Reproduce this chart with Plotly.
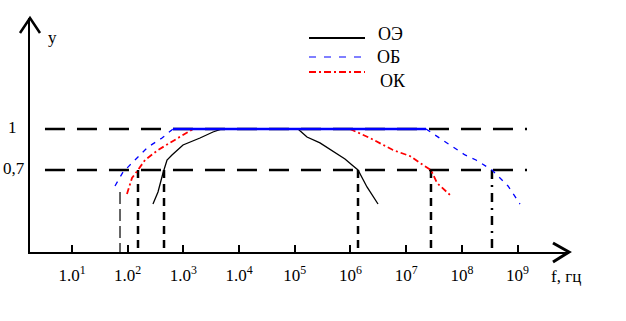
import plotly.graph_objects as go

# ---- data (lg f values, y = relative gain) ----
decades = [1, 2, 3, 4, 5, 6, 7, 8, 9]
tick_labels = ["1.0<sup>1</sup>", "1.0<sup>2</sup>", "1.0<sup>3</sup>", "1.0<sup>4</sup>",
               "10<sup>5</sup>", "10<sup>6</sup>", "10<sup>7</sup>", "10<sup>8</sup>", "10<sup>9</sup>"]

ob_low_lg = [1.772, 1.916, 2.167, 2.364, 2.616, 2.813]
ob_low_y = [0.583, 0.685, 0.788, 0.868, 0.934, 1.0]
ob_high_lg = [7.356, 7.697, 8.056, 8.253, 8.540, 8.828, 9.043]
ob_high_y = [1.0, 0.905, 0.81, 0.773, 0.70, 0.583, 0.451]
flat_lg = [2.813, 7.356]
flat_y = [1.0, 1.0]

ok_low_lg = [1.987, 2.077, 2.185, 2.311, 2.544, 2.759, 2.939, 3.172]
ok_low_y = [0.524, 0.642, 0.70, 0.773, 0.846, 0.898, 0.941, 1.0]
ok_high_lg = [5.991, 6.350, 6.763, 7.068, 7.302, 7.445, 7.553, 7.787]
ok_high_y = [1.0, 0.934, 0.846, 0.802, 0.737, 0.70, 0.605, 0.517]

oe_low_lg = [2.454, 2.544, 2.634, 2.706, 2.795, 2.993, 3.298, 3.531, 3.693]
oe_low_y = [0.451, 0.539, 0.678, 0.773, 0.810, 0.883, 0.934, 0.978, 1.0]
oe_high_lg = [5.057, 5.219, 5.452, 5.686, 5.901, 6.027, 6.135, 6.296, 6.494]
oe_high_y = [1.0, 0.941, 0.898, 0.839, 0.781, 0.737, 0.70, 0.576, 0.451]

ref_levels = [1.0, 0.7]
ref_span_lg = [0.515, 9.169]

cut_lg = [1.862, 2.185, 2.652, 6.135, 7.445, 8.540]
cut_top = [0.539, 0.7, 0.7, 0.7, 0.7, 0.7]
cut_dash = ["12px,5px", "8px,6px", "8px,6px", "8px,6px", "8px,6px", "9px,6px,2px,6px"]
cut_width = [1.2, 2.5, 2.5, 2.5, 2.5, 2.5]

Y_BOTTOM = 0.1
FONT = "'Liberation Serif', 'Times New Roman', 'DejaVu Serif', serif"


def f(lgs):
    return [10 ** v for v in lgs]


fig = go.Figure()

# horizontal reference levels
for lvl in ref_levels:
    fig.add_trace(go.Scatter(x=f(ref_span_lg), y=[lvl, lvl], mode="lines",
                             line=dict(color="black", width=2.5, dash="20px,12px"),
                             showlegend=False, hoverinfo="skip"))

# vertical cut-off markers
for lg, top, dsh, w in zip(cut_lg, cut_top, cut_dash, cut_width):
    fig.add_trace(go.Scatter(x=f([lg, lg]), y=[top, Y_BOTTOM], mode="lines",
                             line=dict(color="black", width=w, dash=dsh),
                             showlegend=False, hoverinfo="skip"))

# curves
for xs, ys in [(oe_low_lg, oe_low_y), (oe_high_lg, oe_high_y)]:
    fig.add_trace(go.Scatter(x=f(xs), y=ys, mode="lines", name="ОЭ",
                             line=dict(color="black", width=1.3), showlegend=False))
for xs, ys in [(ok_low_lg, ok_low_y), (ok_high_lg, ok_high_y)]:
    fig.add_trace(go.Scatter(x=f(xs), y=ys, mode="lines", name="ОК",
                             line=dict(color="red", width=1.8, dash="6px,3px,2px,3px"),
                             showlegend=False))
for xs, ys in [(ob_low_lg, ob_low_y), (ob_high_lg, ob_high_y)]:
    fig.add_trace(go.Scatter(x=f(xs), y=ys, mode="lines", name="ОБ",
                             line=dict(color="blue", width=1.3, dash="5px,6px"),
                             showlegend=False))
fig.add_trace(go.Scatter(x=f(flat_lg), y=flat_y, mode="lines",
                         line=dict(color="blue", width=2.5), showlegend=False))

W, H = 626, 321
L, R, T, B = 30, 57, 18, 69
pw, ph = W - L - R, H - T - B


def px(xp):
    return (xp - L) / pw


def py(yp):
    return (H - B - yp) / ph


shapes = [
    # arrow heads
    dict(type="path", xref="paper", yref="paper",
         path=f"M {px(20)},{py(33)} L {px(30)},{py(18)} L {px(40)},{py(33)}",
         line=dict(color="black", width=2.5)),
    dict(type="path", xref="paper", yref="paper",
         path=f"M {px(553)},{py(243)} L {px(569)},{py(252)} L {px(553)},{py(262)}",
         line=dict(color="black", width=3)),
    # legend samples
    dict(type="line", xref="paper", yref="paper", x0=px(309), x1=px(365), y0=py(38), y1=py(38),
         line=dict(color="black", width=2)),
    dict(type="line", xref="paper", yref="paper", x0=px(309), x1=px(365), y0=py(57), y1=py(57),
         line=dict(color="blue", width=1.2, dash="7px,8px")),
    dict(type="line", xref="paper", yref="paper", x0=px(309), x1=px(365), y0=py(72), y1=py(72),
         line=dict(color="red", width=2, dash="7px,3px,2px,3px")),
]

annotations = [
    dict(text="ОЭ", x=px(376), y=py(34), xanchor="left", size=18),
    dict(text="ОБ", x=px(375), y=py(57), xanchor="left", size=18),
    dict(text="ОК", x=px(378), y=py(81), xanchor="left", size=18),
    dict(text="y", x=px(52), y=py(37), xanchor="center", size=17),
    dict(text="1", x=px(12), y=py(127), xanchor="center", size=17),
    dict(text="0,7", x=px(14), y=py(169), xanchor="center", size=17),
    dict(text="f, гц", x=px(566), y=py(276), xanchor="center", size=17),
]
for a in annotations:
    sz = a.pop("size")
    a.update(xref="paper", yref="paper", showarrow=False, yanchor="middle",
             font=dict(family=FONT, size=sz, color="black"))

fig.update_layout(
    width=W, height=H,
    margin=dict(l=L, r=R, t=T, b=B, pad=0),
    paper_bgcolor="white", plot_bgcolor="white",
    showlegend=False,
    shapes=shapes, annotations=annotations,
    font=dict(family=FONT, size=17, color="black"),
    xaxis=dict(type="log", range=[0.246, 9.923], showgrid=False, zeroline=False,
               showline=True, linecolor="black", linewidth=2,
               tickvals=[10 ** d for d in decades], ticktext=tick_labels,
               ticks="inside", ticklen=7, tickwidth=1.5, tickcolor="black",
               ticklabelstandoff=7,
               tickfont=dict(family=FONT, size=17, color="black")),
    yaxis=dict(range=[Y_BOTTOM, 1.812], showgrid=False, zeroline=False,
               showline=True, linecolor="black", linewidth=2,
               showticklabels=False, ticks=""),
)

fig.write_html("out.html", config={"displayModeBar": False},
               post_script="document.body.style.margin='0';document.body.style.padding='0';")
